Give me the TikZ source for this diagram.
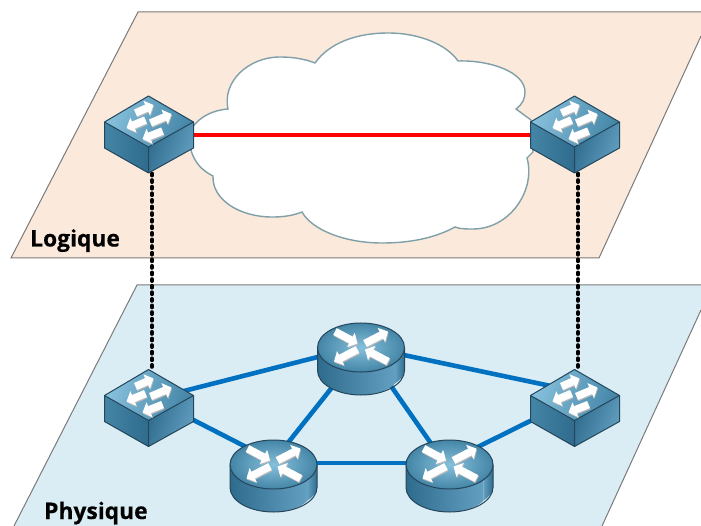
\documentclass[tikz,border=0pt]{standalone}
\usepackage{fontspec}
\setmainfont{Open Sans}[BoldFeatures={FakeBold=0.35}]
\usetikzlibrary{arrows.meta}
\definecolor{planeO}{HTML}{FBE9DC}
\definecolor{planeB}{HTML}{DBEDF4}
\definecolor{edgeG}{HTML}{7A7A7A}
\definecolor{cloudE}{HTML}{7FA0A8}
\definecolor{linkB}{HTML}{0070C0}
\definecolor{devE}{HTML}{24465C}
\definecolor{devL}{HTML}{86C0DC}
\definecolor{devM}{HTML}{629FC0}
\definecolor{devD}{HTML}{2F6B8C}
\definecolor{devX}{HTML}{4485A6}
\tikzset{
  plane/.style={draw=edgeG,line width=1pt,line join=miter},
  cloudshape/.style={draw=cloudE,fill=white,line width=1.4pt,line join=miter},
  redlink/.style={draw=red,line width=4.8pt},
  bluelink/.style={draw=linkB,line width=4.6pt},
  dotlink/.style={draw=black,line width=3.8pt,line cap=round,dash pattern=on 2pt off 4.6pt},
  swbox/.style={inner sep=0pt,outer sep=0pt,minimum width=89pt,minimum height=77pt},
  rtbox/.style={inner sep=0pt,outer sep=0pt,minimum width=87pt,minimum height=72pt},
  devline/.style={draw=devE,line width=1pt,line join=round},
  devarrow/.style={draw=white,line width=7.6pt,-{Triangle[width=15.5pt,length=7.5pt]}},
  devshadow/.style={draw=black!28,line width=7.6pt,-{Triangle[width=15.5pt,length=7.5pt]}},
  plabel/.style={font=\bfseries\fontsize{22.8}{26}\selectfont,text=black,inner sep=0pt,anchor=base west},
}
\newcommand\devarr[4]{%
  \draw[devshadow] (#1+.6,#2+1.2) -- (#3+.6,#4+1.2);
  \draw[devarrow] (#1,#2) -- (#3,#4);}
\newcommand\drawswitch[2]{%
  \begin{scope}[shift={(#1,#2-13)}]
    \shade[left color=devL,right color=devX,shading angle=70] (0,-26) -- (45,0) -- (0,25) -- (-44,0) -- cycle;
    \shade[left color=devX,middle color=devM,right color=devD] (-44,0) -- (0,25) -- (0,51) -- (-44,26) -- cycle;
    \shade[left color=devD,right color=devM,shading angle=70] (0,25) -- (45,0) -- (45,26) -- (0,51) -- cycle;
    \draw[devline] (0,-26) -- (45,0) -- (45,26) -- (0,51) -- (-44,26) -- (-44,0) -- cycle;
    \draw[devline] (-44,0) -- (0,25) -- (45,0) (0,25) -- (0,51);
    \devarr{-13}{-9}{5}{-17}
    \devarr{-3}{-2}{-22}{6}
    \devarr{2}{1}{23}{-8}
    \devarr{14}{9}{-6}{17}
  \end{scope}}
\newcommand\drawrouter[2]{%
  \begin{scope}[shift={(#1,#2-11.5)}]
    \shade[left color=devD,right color=devM] (-43.5,0) -- (-43.5,23) .. controls (-43.5,36.5) and (-24,47.5) .. (0,47.5) .. controls (14,47.5) and (28,43) .. (34,36) -- (34,0) -- cycle;
    \shade[left color=devM,right color=devD] (34,0) -- (34,36) .. controls (40,32) and (43.5,28) .. (43.5,23) -- (43.5,0) -- cycle;
    \draw[devline] (-43.5,0) -- (-43.5,23) .. controls (-43.5,36.5) and (-24,47.5) .. (0,47.5) .. controls (24,47.5) and (43.5,36.5) .. (43.5,23) -- (43.5,0);
    \shade[inner color=devL,outer color=devX] (-43.5,0) .. controls (-43.5,-13.5) and (-24,-24.5) .. (0,-24.5) .. controls (24,-24.5) and (43.5,-13.5) .. (43.5,0) .. controls (43.5,13.5) and (24,24.5) .. (0,24.5) .. controls (-24,24.5) and (-43.5,13.5) .. (-43.5,0) -- cycle;
    \draw[devline] (-43.5,0) .. controls (-43.5,-13.5) and (-24,-24.5) .. (0,-24.5) .. controls (24,-24.5) and (43.5,-13.5) .. (43.5,0) .. controls (43.5,13.5) and (24,24.5) .. (0,24.5) .. controls (-24,24.5) and (-43.5,13.5) .. (-43.5,0) -- cycle;
    \devarr{-26}{-16}{-3.5}{-4}
    \devarr{4}{-4}{27}{-16}
    \devarr{-3.5}{2}{-27}{14}
    \devarr{27}{14}{4}{2}
  \end{scope}}
\begin{document}
\begin{tikzpicture}[x=1pt,y=-1pt]
\useasboundingbox (0,0) rectangle (701,526);
\clip (0,0) rectangle (701,526);
% planes
\fill[planeO] (138,12) -- (701,12) -- (701,36) -- (599,258) -- (11,258) -- cycle;
\draw[plane] (701,36) -- (599,258) -- (11,258) -- (138,12) -- (701,12);
\fill[planeB] (137,285) -- (701,285) -- (701,310) -- (602,526) -- (14,526) -- cycle;
\draw[plane] (701,310) -- (602,526) (14,526) -- (137,285) -- (701,285);
% cloud
\draw[cloudshape] (192,128) .. controls (200,116) and (214,110) .. (228,109)
  .. controls (222,82) and (248,57) .. (280,57)
  .. controls (293,57) and (305,59) .. (315,63)
  .. controls (330,42) and (358,33) .. (388,33)
  .. controls (420,33) and (447,45) .. (458,61)
  .. controls (490,60) and (525,72) .. (525,92)
  .. controls (525,98) and (523,104) .. (516,109)
  -- (531,120) -- (533,152) -- (527,158)
  .. controls (536,190) and (510,229) .. (473,229)
  .. controls (466,229) and (460,229) .. (455,227)
  .. controls (435,238) and (410,243) .. (382,243)
  .. controls (345,243) and (312,230) .. (302,212)
  .. controls (292,216) and (282,217) .. (272,217)
  .. controls (240,217) and (212,200) .. (213,176)
  .. controls (205,172) and (195,165) .. (191,150) -- cycle;
% device frames
\node[swbox] (sw1) at (148.5,135) {};
\node[swbox] (sw2) at (574.5,135) {};
\node[swbox] (lsw1) at (148.5,408.5) {};
\node[swbox] (lsw2) at (574.5,408.5) {};
\node[rtbox] (r1) at (273.5,476) {};
\node[rtbox] (r2) at (361,359) {};
\node[rtbox] (r3) at (449.5,476) {};
% connectors
\draw[redlink] (sw1) -- (sw2);
\draw[dotlink] ([xshift=3.5pt]sw1.south) -- ([xshift=3.5pt]lsw1.north);
\draw[dotlink] ([xshift=3.5pt]sw2.south) -- ([xshift=3.5pt]lsw2.north);
\draw[bluelink] ([yshift=8.5pt]lsw1.center) -- ([yshift=13pt]r2.center);
\draw[bluelink] ([yshift=17.5pt]lsw2.center) -- ([yshift=13pt]r2.center);
\draw[bluelink] ([yshift=11.5pt]lsw1.center) -- ([yshift=15pt]r1.center);
\draw[bluelink] ([yshift=9.5pt]lsw2.center) -- ([yshift=15pt]r3.center);
\draw[bluelink] ([yshift=8pt]r2.center) -- ([yshift=15pt]r1.center);
\draw[bluelink] ([yshift=16pt]r2.center) -- ([yshift=6pt]r3.center);
\draw[bluelink] ([yshift=13pt]r1.center) -- ([yshift=13pt]r3.center);
% devices
\drawswitch{148.5}{135}
\drawswitch{574.5}{135}
\drawswitch{148.5}{408.5}
\drawswitch{574.5}{408.5}
\drawrouter{273.5}{476}
\drawrouter{361}{359}
\drawrouter{449.5}{476}
% labels
\node[plabel] (logique) at (30,246.5) {Logique};
\node[plabel] (physique) at (44,519) {Physique};
\end{tikzpicture}
\end{document}
